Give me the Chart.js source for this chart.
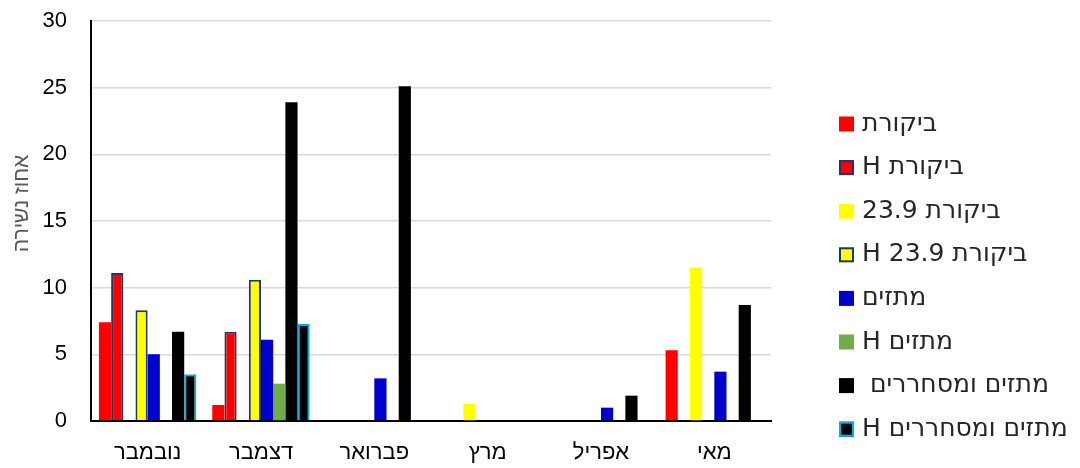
<!DOCTYPE html>
<html>
<head>
<meta charset="utf-8">
<script src="https://cdn.jsdelivr.net/npm/chart.js@4.4.1/dist/chart.umd.min.js"></script>
<style>
  html, body { margin: 0; padding: 0; background: #ffffff; }
  #c { display: block; }
</style>
</head>
<body>
<canvas id="c" width="1080" height="468"></canvas>
<script>
// Categories (months) and dropout percentages per treatment
const months = ['נובמבר', 'דצמבר', 'פברואר', 'מרץ', 'אפריל', 'מאי'];

const control      = [7.4, 1.2, null, null, null, 5.3];
const controlH     = [11.1, 6.7, null, null, null, null];
const control239   = [null, null, null, 1.3, null, 11.5];
const control239H  = [8.3, 10.6, null, null, null, null];
const sprinklers   = [5.0, 6.1, 3.2, null, 1.0, 3.7];
const sprinklersH  = [null, 2.8, null, null, null, null];
const rotators     = [6.7, 23.9, 25.1, null, 1.9, 8.7];
const rotatorsH    = [3.5, 7.3, null, null, null, null];

const seriesLabels = [
  'ביקורת', 'ביקורת H', 'ביקורת 23.9', 'ביקורת 23.9 H',
  'מתזים', 'מתזים H', 'מתזים ומסחררים ', 'מתזים ומסחררים H'
];

const yTicks = [0, 5, 10, 15, 20, 25, 30];

const FONT = '"Liberation Sans", Arial, "DejaVu Sans", sans-serif';
const LEGEND_FONT = '"DejaVu Sans", "Liberation Sans", sans-serif';
Chart.defaults.font.family = FONT;

// Legend drawn at the right of the plot, box then label (RTL text)
const sideLegend = {
  id: 'sideLegend',
  afterDraw(chart) {
    const { ctx, chartArea } = chart;
    const x0 = chartArea.right + 68;
    const y0 = 124;
    const step = 43.6;
    const box = 15;
    ctx.save();
    ctx.font = '25px ' + LEGEND_FONT;
    ctx.textBaseline = 'middle';
    ctx.direction = 'rtl';
    ctx.textAlign = 'left';
    chart.data.datasets.forEach((ds, i) => {
      const cy = y0 + i * step;
      ctx.fillStyle = ds.backgroundColor;
      ctx.fillRect(x0, cy - box / 2, box, box);
      if (ds.borderWidth) {
        ctx.strokeStyle = ds.borderColor;
        ctx.lineWidth = 2;
        ctx.strokeRect(x0 + 1, cy - box / 2 + 1, box - 2, box - 2);
      }
      ctx.fillStyle = '#262626';
      ctx.fillText(ds.label, x0 + box + 8, cy);
    });
    ctx.restore();
  }
};

const NAVY = '#1f3864';
const CYAN = '#00b0f0';

new Chart(document.getElementById('c'), {
  type: 'bar',
  data: {
    labels: months,
    datasets: [
      { label: seriesLabels[0], data: control,     backgroundColor: '#ff0000', borderWidth: 0 },
      { label: seriesLabels[1], data: controlH,    backgroundColor: '#ff0000', borderColor: NAVY, borderWidth: 2 },
      { label: seriesLabels[2], data: control239,  backgroundColor: '#ffff00', borderWidth: 0 },
      { label: seriesLabels[3], data: control239H, backgroundColor: '#ffff00', borderColor: NAVY, borderWidth: 2 },
      { label: seriesLabels[4], data: sprinklers,  backgroundColor: '#0000cc', borderWidth: 0 },
      { label: seriesLabels[5], data: sprinklersH, backgroundColor: '#70ad47', borderWidth: 0 },
      { label: seriesLabels[6], data: rotators,    backgroundColor: '#000000', borderWidth: 0 },
      { label: seriesLabels[7], data: rotatorsH,   backgroundColor: '#000000', borderColor: CYAN, borderWidth: 2 }
    ]
  },
  options: {
    responsive: false,
    animation: false,
    devicePixelRatio: 1,
    categoryPercentage: 0.86,
    barPercentage: 1.0,
    layout: { padding: { left: 0, right: 309, top: 21, bottom: 0 } },
    plugins: {
      legend: { display: false },
      tooltip: { enabled: false }
    },
    scales: {
      x: {
        afterFit: (scale) => { scale.height = 47; },
        grid: { display: false, drawTicks: false },
        border: { display: true, color: '#000000', width: 2 },
        ticks: { padding: 19, color: '#000000', font: { size: 22 } }
      },
      y: {
        min: yTicks[0],
        max: yTicks[yTicks.length - 1],
        afterBuildTicks: (scale) => { scale.ticks = yTicks.map(v => ({ value: v })); },
        afterFit: (scale) => {
          scale.width = 91;
          scale.paddingTop = 0;
          scale.paddingBottom = 0;
        },
        grid: {
          drawTicks: false,
          lineWidth: 1.5,
          color: (c) => (c.tick && c.tick.value === 0 ? 'rgba(0,0,0,0)' : '#d9d9d9')
        },
        border: { display: true, color: '#000000', width: 2 },
        ticks: { padding: 24, color: '#000000', font: { size: 22 } },
        title: {
          display: true,
          text: '      אחוז נשירה',
          color: '#595959',
          font: { size: 21 },
          padding: { top: 10, bottom: 10 }
        }
      }
    }
  },
  plugins: [sideLegend]
});
</script>
</body>
</html>
